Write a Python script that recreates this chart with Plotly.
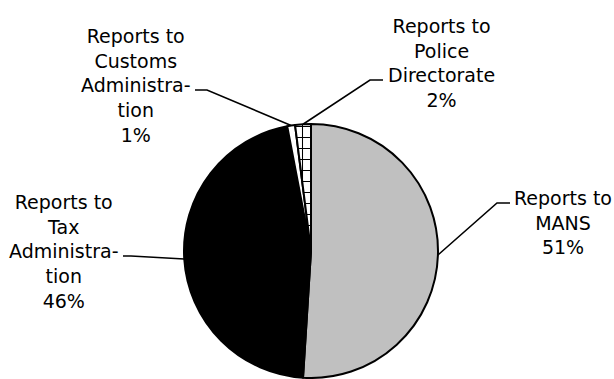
import math
import plotly.graph_objects as go

# Share of reports by receiving institution
categories = ["Reports to MANS", "Reports to Tax Administration",
              "Reports to Customs Administration", "Reports to Police Directorate"]
values = [51, 46, 1, 2]
label_lines = [
    ["Reports to", "MANS"],
    ["Reports to", "Tax", "Administra-", "tion"],
    ["Reports to", "Customs", "Administra-", "tion"],
    ["Reports to", "Police", "Directorate"],
]
fill_colors = ["#c0c0c0", "#000000", "#ffffff", "#ffffff"]
patterns = ["", "", "", "+"]

W, H = 614, 379
CX, CY, R = 311, 251, 127  # pie centre and radius in pixels

# label block centre (px) and elbow of the leader line (px): [bend, end-near-text]
label_pos = [(563, 222), (64, 251), (136, 85), (441, 63)]
leader_elbow = [((497, 203), (510, 203)),
                ((131, 256), (123, 256)),
                ((207, 90), (195, 90)),
                ((370, 80), (383, 80))]


def px(x, y):
    return x / W, (H - y) / H


dx0, dy0 = px(CX - R, CY + R)
dx1, dy1 = px(CX + R, CY - R)

fig = go.Figure(go.Pie(
    labels=categories,
    values=values,
    sort=False,
    direction="clockwise",
    rotation=0,
    textinfo="none",
    hoverinfo="label+percent",
    marker=dict(
        colors=fill_colors,
        line=dict(color="#000000", width=2),
        pattern=dict(shape=patterns, fgcolor="#000000", bgcolor="#ffffff",
                     size=11, solidity=0.18),
    ),
    domain=dict(x=[dx0, dx1], y=[dy0, dy1]),
    showlegend=False,
))

total = sum(values)
cum = 0.0
annotations = []
shapes = []
for i, v in enumerate(values):
    mid = (cum + v / 2) / total * 2 * math.pi
    cum += v
    ex = CX + R * math.sin(mid)
    ey = CY - R * math.cos(mid)
    (bx, by), (tx, ty) = leader_elbow[i]
    p0, p1, p2 = px(ex, ey), px(bx, by), px(tx, ty)
    shapes.append(dict(
        type="path", xref="paper", yref="paper",
        path=f"M {p0[0]} {p0[1]} L {p1[0]} {p1[1]} L {p2[0]} {p2[1]}",
        line=dict(color="#000000", width=1.6),
    ))
    pct = round(v / total * 100)
    text = "<br>".join(label_lines[i] + [f"{pct}%"])
    lx, ly = px(*label_pos[i])
    annotations.append(dict(
        x=lx, y=ly, xref="paper", yref="paper", text=text, showarrow=False,
        xanchor="center", yanchor="middle", align="center",
        font=dict(family="DejaVu Sans", size=19, color="#000000"),
    ))

fig.update_layout(
    width=W, height=H,
    margin=dict(l=0, r=0, t=0, b=0),
    paper_bgcolor="#ffffff",
    plot_bgcolor="#ffffff",
    annotations=annotations,
    shapes=shapes,
)

fig.write_html("out.html")
